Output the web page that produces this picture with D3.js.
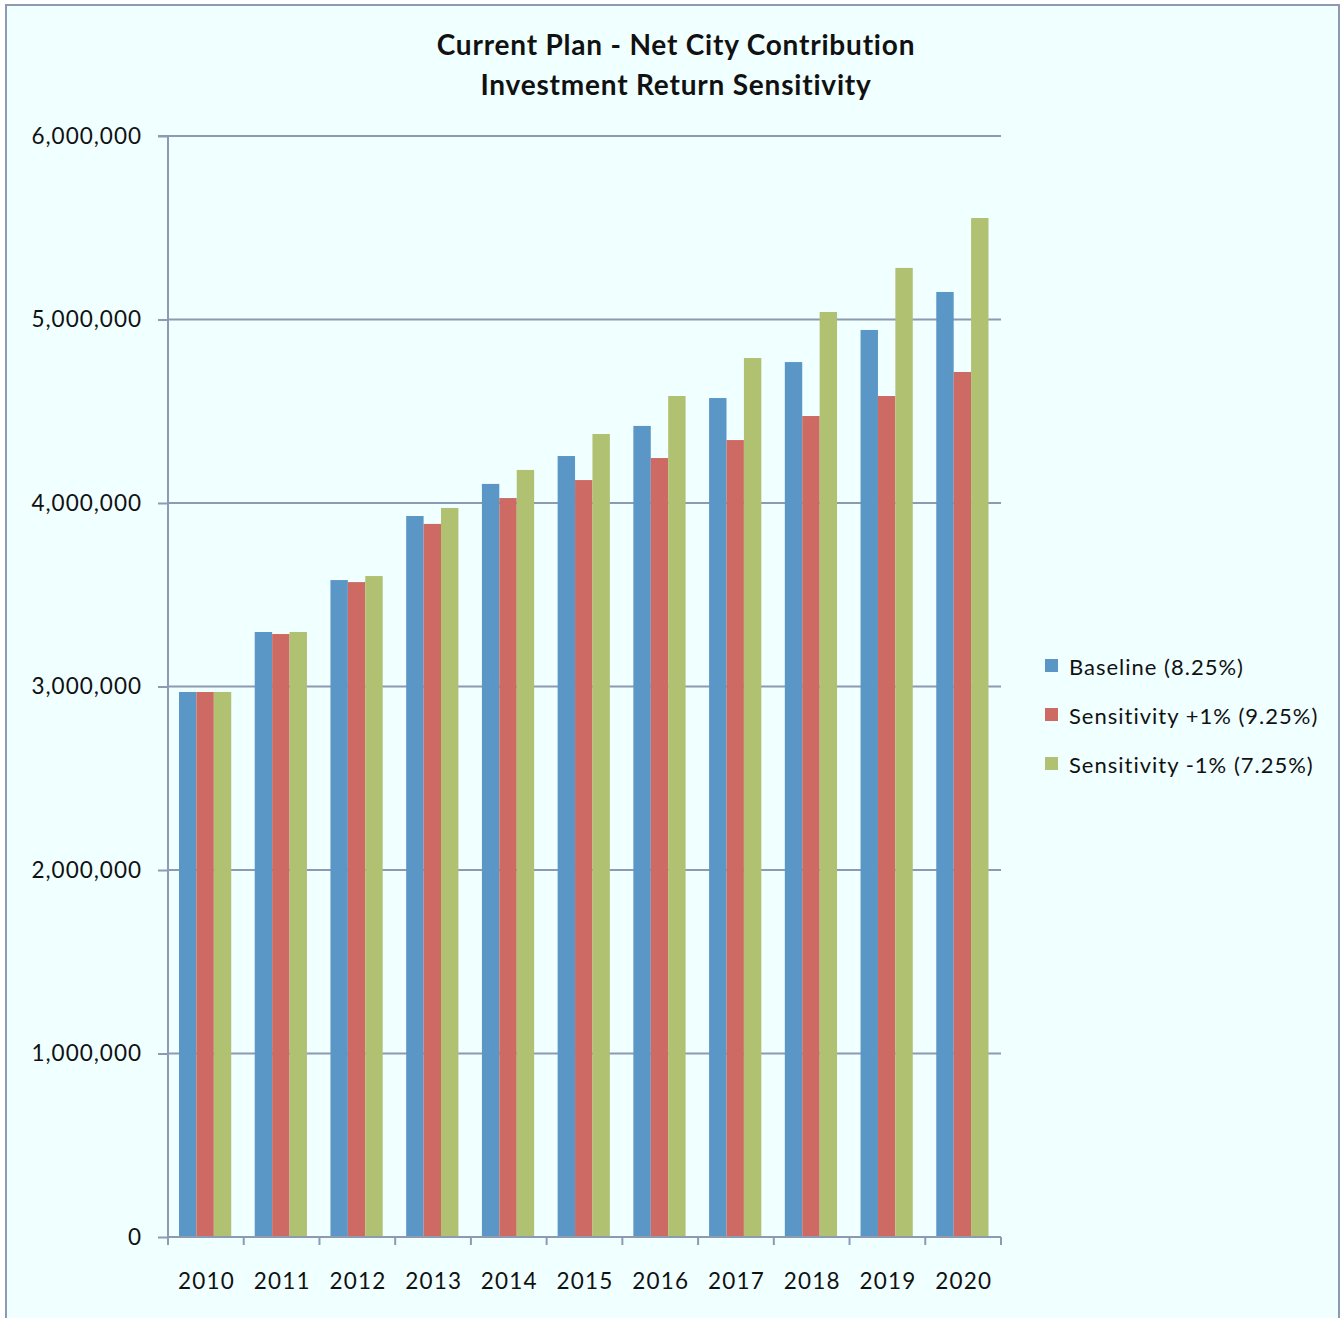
<!DOCTYPE html>
<html>
<head>
<meta charset="utf-8">
<script src="https://cdn.jsdelivr.net/npm/d3@7"></script>
<style>
  html, body { margin: 0; padding: 0; background: #ffffff; }
  svg { display: block; }
  text { font-family: Lato, "Open Sans", sans-serif; fill: #111; }
</style>
</head>
<body>
<svg id="chart" width="1344" height="1318"></svg>
<script>
// Net city contribution by plan year, three investment-return assumptions
const years = ["2010","2011","2012","2013","2014","2015","2016","2017","2018","2019","2020"];
const baseline = [2970000, 3297000, 3580000, 3929000, 4104000, 4256000, 4420000, 4572000, 4768000, 4943000, 5150000];
const plusOne  = [2970000, 3286000, 3569000, 3886000, 4027000, 4125000, 4245000, 4343000, 4474000, 4583000, 4714000];
const minusOne = [2970000, 3297000, 3602000, 3973000, 4180000, 4376000, 4583000, 4790000, 5041000, 5281000, 5553000];
const seriesNames = ["Baseline (8.25%)", "Sensitivity +1% (9.25%)", "Sensitivity -1% (7.25%)"];
const seriesColors = ["#5A96C6", "#CE6A64", "#B1C172"];
const yTicks = [0, 1000000, 2000000, 3000000, 4000000, 5000000, 6000000];
const titleLines = ["Current Plan - Net City Contribution", "Investment Return Sensitivity"];

const series = [baseline, plusOne, minusOne];
const svg = d3.select("#chart");

// outer chart frame
svg.append("rect")
  .attr("x", 6).attr("y", 5).attr("width", 1333).attr("height", 1330)
  .attr("fill", "#F0FFFF").attr("stroke", "#8E9AB1").attr("stroke-width", 2);

const plot = { left: 168, right: 1001, top: 136, bottom: 1237 };

const x = d3.scaleBand().domain(years).range([plot.left, plot.right]).paddingInner(0).paddingOuter(0);
const inner = d3.scaleBand().domain(d3.range(series.length)).range([11, x.bandwidth() - 12.5]).padding(0);
const y = d3.scaleLinear().domain([0, 6000000]).range([plot.bottom, plot.top]);

// horizontal gridlines
svg.append("g").selectAll("line").data(yTicks.filter(d => d > 0)).join("line")
  .attr("x1", plot.left).attr("x2", plot.right)
  .attr("y1", d => y(d)).attr("y2", d => y(d))
  .attr("stroke", "#8E9AB1").attr("stroke-width", 2);

// bars
const groups = svg.append("g").selectAll("g").data(years).join("g")
  .attr("transform", d => `translate(${x(d)},0)`);
groups.selectAll("rect").data((d, i) => series.map((s, k) => ({ k, v: s[i] }))).join("rect")
  .attr("x", d => inner(d.k))
  .attr("width", inner.bandwidth())
  .attr("y", d => y(d.v))
  .attr("height", d => y(0) - y(d.v))
  .attr("fill", d => seriesColors[d.k]);

// y axis
const yAxis = svg.append("g").attr("transform", `translate(${plot.left},0)`)
  .call(d3.axisLeft(y).tickValues(yTicks).tickSize(10).tickPadding(16)
    .tickFormat(d => d === 0 ? "0" : d3.format(",")(d)));
yAxis.selectAll("path, line").attr("stroke", "#8E9AB1").attr("stroke-width", 2);
yAxis.select("path").attr("d", `M-10,${plot.top}H0V${plot.bottom}`);
yAxis.selectAll("text").attr("font-size", 22.5).attr("fill", "#111")
  .attr("letter-spacing", 1)
  .style("font-family", "Lato, sans-serif");

// x axis with ticks between categories
const xAxis = svg.append("g").attr("transform", `translate(0,${plot.bottom})`);
xAxis.append("line").attr("x1", plot.left).attr("x2", plot.right)
  .attr("y1", 0).attr("y2", 0).attr("stroke", "#8E9AB1").attr("stroke-width", 2);
const bounds = years.map(d => x(d)).concat([plot.right]);
xAxis.selectAll("line.tick").data(bounds).join("line").attr("class", "tick")
  .attr("x1", d => d).attr("x2", d => d).attr("y1", 0).attr("y2", 8)
  .attr("stroke", "#8E9AB1").attr("stroke-width", 2);
xAxis.selectAll("text").data(years).join("text")
  .attr("x", d => x(d) + x.bandwidth() / 2 + 0.6).attr("y", 52)
  .attr("text-anchor", "middle").attr("font-size", 22.5).attr("letter-spacing", 1.2)
  .text(d => d);

// title
svg.append("g").selectAll("text").data(titleLines).join("text")
  .attr("x", 676).attr("y", (d, i) => 55 + i * 40)
  .attr("text-anchor", "middle").attr("font-size", 28).attr("font-weight", "bold")
  .attr("letter-spacing", 0.8)
  .text(d => d);

// legend
const legend = svg.append("g").selectAll("g").data(seriesNames).join("g")
  .attr("transform", (d, i) => `translate(1045,${667 + i * 49})`);
legend.append("rect").attr("x", 0).attr("y", -8).attr("width", 13).attr("height", 13)
  .attr("fill", (d, i) => seriesColors[i]);
legend.append("text").attr("x", 24).attr("y", 8).attr("font-size", 22)
  .attr("letter-spacing", 1).text(d => d);
</script>
</body>
</html>
